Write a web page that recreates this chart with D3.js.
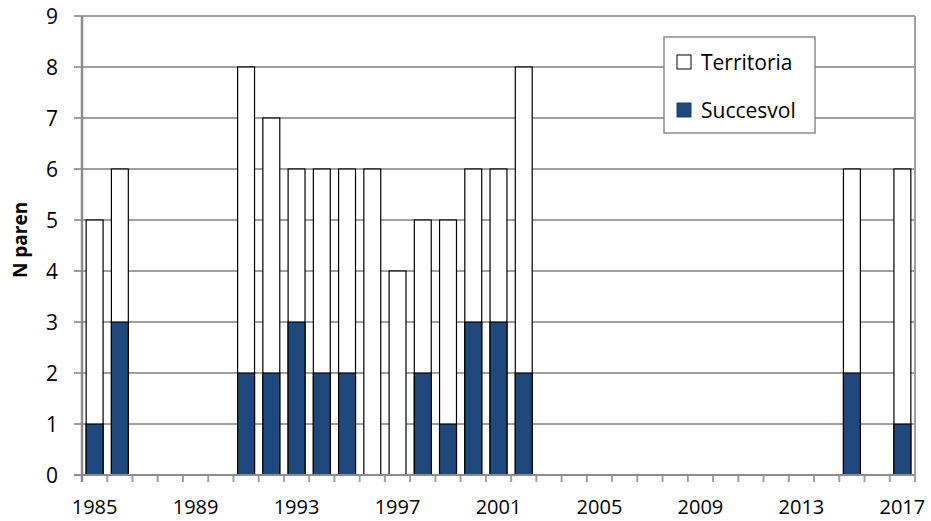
<!DOCTYPE html>
<html><head><meta charset="utf-8">
<script src="https://cdn.jsdelivr.net/npm/d3@7"></script>
<style>body{margin:0;background:#fff}svg{display:block}text{font-family:"Open Sans",sans-serif;fill:#000}</style>
</head><body><svg id="c" width="931" height="521"></svg>
<script>
const years = d3.range(1985, 2018);
const dataYears = [1985,1986,1991,1992,1993,1994,1995,1996,1997,1998,1999,2000,2001,2002,2015,2017];
const territoria = [5,6,8,7,6,6,6,6,4,5,5,6,6,8,6,6];
const succesvol = [1,3,2,2,3,2,2,0,0,2,1,3,3,2,2,1];
const yTicks = [0,1,2,3,4,5,6,7,8,9];
const xLabels = [1985,1989,1993,1997,2001,2005,2009,2013,2017];
const seriesNames = ["Territoria","Succesvol"];
const colors = ["#ffffff","#1f497d"];

const svg = d3.select("#c");
const L=82,R=915,T=16,B=475;
const x = d3.scaleBand().domain(years).range([L,R]).paddingInner(0.33).paddingOuter(0.165);
const y = d3.scaleLinear().domain([0,9]).range([B,T]);
const step = x.step();
const grid="#a0a0a0";

svg.append("g").selectAll("line").data(yTicks).join("line")
  .attr("x1",L-8).attr("x2",R).attr("y1",d=>y(d)).attr("y2",d=>y(d))
  .attr("stroke",grid).attr("stroke-width",2);
svg.append("g").selectAll("text").data(yTicks).join("text")
  .attr("x",58).attr("y",d=>y(d)).attr("dy","0.36em").attr("text-anchor","end")
  .attr("font-size",21).text(d=>d);
svg.append("line").attr("x1",R).attr("x2",R).attr("y1",T).attr("y2",B+7).attr("stroke",grid).attr("stroke-width",2);
svg.append("g").selectAll("line").data(d3.range(years.length+1)).join("line")
  .attr("x1",i=>L+i*step).attr("x2",i=>L+i*step).attr("y1",B).attr("y2",B+7)
  .attr("stroke",grid).attr("stroke-width",2);
const rows = dataYears.map((yr,i)=>({yr,t:territoria[i],s:succesvol[i]}));
svg.append("g").selectAll("rect").data(rows).join("rect")
  .attr("x",d=>x(d.yr)).attr("width",x.bandwidth())
  .attr("y",d=>y(d.t)).attr("height",d=>y(0)-y(d.t))
  .attr("fill",colors[0]).attr("stroke","#000").attr("stroke-width",1.2);
svg.append("g").selectAll("rect").data(rows.filter(d=>d.s>0)).join("rect")
  .attr("x",d=>x(d.yr)).attr("width",x.bandwidth())
  .attr("y",d=>y(d.s)).attr("height",d=>y(0)-y(d.s))
  .attr("fill",colors[1]).attr("stroke","#000").attr("stroke-width",1.2);
svg.append("line").attr("x1",L).attr("x2",L).attr("y1",T).attr("y2",B+7).attr("stroke","#8c8c8c").attr("stroke-width",2.5);
svg.append("line").attr("x1",L-8).attr("x2",R).attr("y1",B).attr("y2",B).attr("stroke","#8c8c8c").attr("stroke-width",2);
svg.append("g").selectAll("text").data(xLabels).join("text")
  .attr("x",d=>x(d)+x.bandwidth()/2).attr("y",514).attr("text-anchor","middle")
  .attr("font-size",20).text(d=>d);
svg.append("text").attr("transform","translate(27,240) rotate(-90)").attr("text-anchor","middle")
  .attr("font-size",19).attr("font-weight","bold").text("N paren");
const lg = svg.append("g");
lg.append("rect").attr("x",664).attr("y",37).attr("width",151).attr("height",96)
  .attr("fill","#fff").attr("stroke","#8c8c8c").attr("stroke-width",1.5);
seriesNames.forEach((n,i)=>{
  const cy = 62 + i*48;
  lg.append("rect").attr("x",677).attr("y",cy-7).attr("width",14).attr("height",14)
    .attr("fill",colors[i]).attr("stroke",i?"#1f3f66":"#000").attr("stroke-width",1);
  lg.append("text").attr("x",701).attr("y",cy).attr("dy","0.36em").attr("font-size",21).text(n);
});
</script></body></html>
